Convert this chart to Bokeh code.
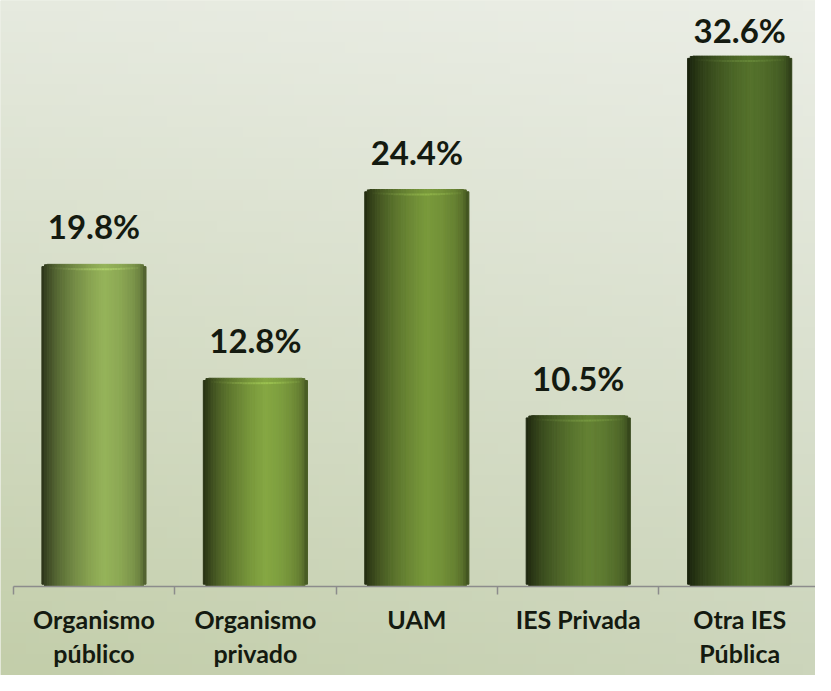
import numpy as np
from bokeh.plotting import figure
from bokeh.models import ColumnDataSource, FixedTicker, Range1d
from bokeh.core.properties import value
from bokeh.embed import file_html
from bokeh.resources import INLINE

# ---- data ----
categories = ["Organismo\npúblico", "Organismo\nprivado", "UAM", "IES Privada", "Otra IES\nPública"]
values = [19.8, 12.8, 24.4, 10.5, 32.6]
value_labels = ["19.8%", "12.8%", "24.4%", "10.5%", "32.6%"]
bar_peak_colors = [(150, 180, 90), (134, 168, 67), (122, 154, 60), (100, 130, 52), (85, 114, 44)]

# ---- layout constants ----
W, H = 815, 675
AXIS_Y_PX = 586          # pixel row of the baseline inside the figure
PX_PER_Y = 16.27
Y_MAX = AXIS_Y_PX / PX_PER_Y
Y_MIN = -(H - AXIS_Y_PX) / PX_PER_Y
PX_PER_CAT = 161.43
X0 = -0.5 - 12.75 / PX_PER_CAT
X1 = X0 + W / PX_PER_CAT
BAR_W = 0.645
FONT = "Lato"
LABEL_GAP_PX = 25
LABEL_MIN_TOP_PX = 42

p = figure(width=W, height=H, output_backend="svg", toolbar_location=None,
           x_range=Range1d(X0, X1), y_range=Range1d(Y_MIN, Y_MAX),
           min_border_left=0, min_border_right=0, min_border_top=0, min_border_bottom=0)
p.outline_line_color = None
p.grid.visible = False
p.yaxis.visible = False
p.border_fill_color = "#c8d2b3"
p.background_fill_color = "#dde3d2"

# background gradient
gh, gw = 64, 64
img = np.zeros((gh, gw), dtype=np.uint32)
view = img.view(dtype=np.uint8).reshape((gh, gw, 4))
top_l = np.array([230, 234, 223.0]); top_r = np.array([235, 238, 230.0])
bot_l = np.array([195, 206, 170.0]); bot_r = np.array([204, 213, 187.0])
for r in range(gh):
    ty = r / (gh - 1)  # 0 bottom, 1 top
    for c in range(gw):
        tx = c / (gw - 1)
        col = (bot_l * (1 - tx) + bot_r * tx) * (1 - ty) + (top_l * (1 - tx) + top_r * tx) * ty
        view[r, c, 0:3] = col.astype(np.uint8)
        view[r, c, 3] = 255
p.image_rgba(image=[img], x=X0, y=Y_MIN, dw=X1 - X0, dh=Y_MAX - Y_MIN)

# cylinder-style bars as shaded strips
prof_t = [0, 0.05, 0.15, 0.3, 0.45, 0.6, 0.75, 0.88, 0.95, 1.0]
prof_v = [0.28, 0.40, 0.58, 0.76, 0.90, 1.0, 0.94, 0.83, 0.72, 0.50]
N = 40
R_PX = 6.0
bar_px = BAR_W * PX_PER_CAT
left, right, top, bottom, color = [], [], [], [], []
hl_left, hl_right, hl_top, hl_bottom, hl_color = [], [], [], [], []
for i, v in enumerate(values):
    base = np.array(bar_peak_colors[i], dtype=float)
    x_start = i - BAR_W / 2
    dx = BAR_W / N
    for j in range(N):
        tc = (j + 0.5) / N
        f = np.interp(tc, prof_t, prof_v)
        rgb = np.clip(base * f, 0, 255).astype(int)
        d = min(tc, 1 - tc) * bar_px
        inset_px = 0.0
        if d < R_PX:
            inset_px = R_PX - np.sqrt(max(R_PX ** 2 - (R_PX - d) ** 2, 0))
        inset = inset_px / PX_PER_Y
        left.append(x_start + j * dx)
        right.append(x_start + (j + 1) * dx)
        top.append(v - inset)
        bottom.append(inset)
        color.append("#%02x%02x%02x" % tuple(rgb))
        # rim highlight near the cylinder top
        if 0.08 < tc < 0.92:
            curve = (1 - (2 * tc - 1) ** 2)
            yc = v - (3.0 + 2.0 * curve) / PX_PER_Y
            hi = np.clip(base * f * (1.0 + 0.13 * curve) + 6 * curve, 0, 255).astype(int)
            hl_left.append(x_start + j * dx)
            hl_right.append(x_start + (j + 1) * dx)
            hl_top.append(yc + 1.0 / PX_PER_Y)
            hl_bottom.append(yc - 1.0 / PX_PER_Y)
            hl_color.append("#%02x%02x%02x" % tuple(hi))
src = ColumnDataSource(dict(left=left, right=right, top=top, bottom=bottom, color=color))
p.quad(left="left", right="right", top="top", bottom="bottom", fill_color="color",
       line_color="color", line_width=1, source=src)
hsrc = ColumnDataSource(dict(left=hl_left, right=hl_right, top=hl_top, bottom=hl_bottom, color=hl_color))
p.quad(left="left", right="right", top="top", bottom="bottom", fill_color="color",
       line_color=None, source=hsrc)

# value labels (kept below the top edge of the chart area)
cap = (AXIS_Y_PX - LABEL_MIN_TOP_PX) / PX_PER_Y
label_y = [min(v + LABEL_GAP_PX / PX_PER_Y, cap) for v in values]
lab_src = ColumnDataSource(dict(x=list(range(len(values))), y=label_y, t=value_labels))
p.text(x="x", y="y", text="t", source=lab_src, text_align="center", text_baseline="alphabetic",
       y_offset=-13, text_font=value(FONT), text_font_style="bold", text_font_size="33px",
       text_color="#141a10")

# axis at the baseline
ax = p.xaxis[0]
ax.fixed_location = 0
ax.ticker = FixedTicker(ticks=list(range(len(categories))),
                        minor_ticks=[i - 0.5 for i in range(len(categories) + 1)])
ax.major_label_overrides = {i: c for i, c in enumerate(categories)}
ax.bounds = (-0.5, len(categories) - 0.5)
ax.axis_line_color = "#8c8c8c"
ax.axis_line_width = 1.5
ax.major_tick_line_color = None
ax.major_tick_out = 0
ax.major_tick_in = 0
ax.minor_tick_line_color = "#8c8c8c"
ax.minor_tick_line_width = 1.5
ax.minor_tick_out = 8
ax.minor_tick_in = 0
ax.major_label_standoff = 9
ax.major_label_text_font = FONT
ax.major_label_text_font_style = "bold"
ax.major_label_text_font_size = "25px"
ax.major_label_text_color = "#141a10"
ax.major_label_text_line_height = 1.15

open("out.html", "w").write(file_html(p, INLINE))
